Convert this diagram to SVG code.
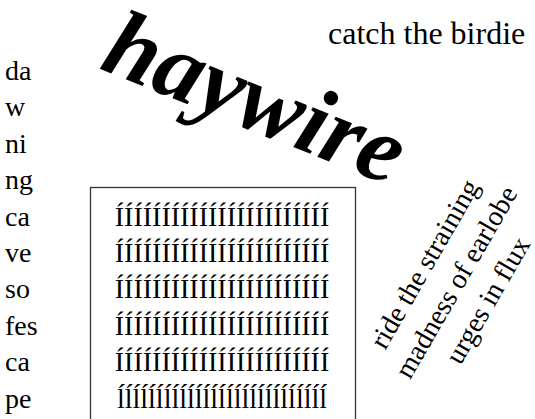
<svg xmlns="http://www.w3.org/2000/svg" width="535" height="419" viewBox="0 0 535 419">
<style>
.t{font-family:'Liberation Serif','Times New Roman',serif;font-size:28px;fill:#000}
.m{text-anchor:middle}
</style>
<rect width="535" height="419" fill="#fff"/>
<g id="catch">
<text class="t" x="328" y="44" font-size="32" style="font-size:32px">catch the birdie</text>
</g>
<g id="haywire">
<text class="t" transform="translate(98,68) rotate(22)" style="font-size:96px;font-weight:bold;font-style:italic">haywire</text>
</g>
<g id="column">
<text class="t" x="5" y="80">da</text>
<text class="t" x="5" y="116.4">w</text>
<text class="t" x="5" y="152.8">ni</text>
<text class="t" x="5" y="189.2">ng</text>
<text class="t" x="5" y="225.6">ca</text>
<text class="t" x="5" y="262">ve</text>
<text class="t" x="5" y="298.4">so</text>
<text class="t" x="5" y="334.8">fes</text>
<text class="t" x="5" y="371.2">ca</text>
<text class="t" x="5" y="407.6">pe</text>
</g>
<g id="box">
<rect x="90.5" y="187.5" width="265" height="260" fill="none" stroke="#333" stroke-width="1.3"/>
<text class="t m" x="222" y="225.6">ÍÍÍÍÍÍÍÍÍÍÍÍÍÍÍÍÍÍÍÍÍÍÍ</text>
<text class="t m" x="222" y="262">ÍÍÍÍÍÍÍÍÍÍÍÍÍÍÍÍÍÍÍÍÍÍÍ</text>
<text class="t m" x="222" y="298.4">ÍÍÍÍÍÍÍÍÍÍÍÍÍÍÍÍÍÍÍÍÍÍÍ</text>
<text class="t m" x="222" y="334.8">ÍÍÍÍÍÍÍÍÍÍÍÍÍÍÍÍÍÍÍÍÍÍÍ</text>
<text class="t m" x="222" y="371.2">ÍÍÍÍÍÍÍÍÍÍÍÍÍÍÍÍÍÍÍÍÍÍÍ</text>
<text class="t m" x="222" y="407.6">ĺĺĺĺĺĺĺĺĺĺĺĺĺĺĺĺĺĺĺĺĺĺĺĺĺĺĺ</text>
</g>
<g id="ride" transform="translate(456,282) rotate(-60)">
<text class="t m" x="0" y="-27">ride the straining</text>
<text class="t m" x="0" y="9.4">madness of earlobe</text>
<text class="t m" x="0" y="45.8">urges in flux</text>
</g>
</svg>
